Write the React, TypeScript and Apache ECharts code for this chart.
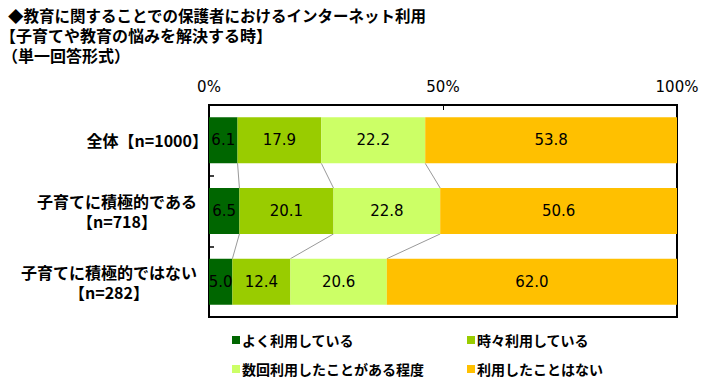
import React, { useEffect, useRef } from 'react';
import * as echarts from 'echarts';

const titleLines = [
  '◆教育に関することでの保護者におけるインターネット利用',
  '【子育てや教育の悩みを解決する時】',
  '（単一回答形式）',
];
const categories = [
  '全体【n=1000】',
  '子育てに積極的である\n【n=718】',
  '子育てに積極的ではない\n【n=282】',
];
const seriesNames = ['よく利用している', '時々利用している', '数回利用したことがある程度', '利用したことはない'];
const often = [6.1, 6.5, 5.0];
const sometimes = [17.9, 20.1, 12.4];
const fewTimes = [22.2, 22.8, 20.6];
const never = [53.8, 50.6, 62.0];
const xMin = 0;
const xMax = 100;
const xInterval = 50;

const colors = ['#006600', '#99CC00', '#CCFF66', '#FFC000'];
const JP = '"Noto Sans CJK JP", sans-serif';
const NUM = '"DejaVu Sans", sans-serif';

export default function App() {
  const ref = useRef<HTMLDivElement>(null);
  useEffect(() => {
    if (!ref.current) return;
    const chart = echarts.init(ref.current, undefined, { renderer: 'svg' });
    const values = [often, sometimes, fewTimes, never];

    // connectors between cumulative boundaries of adjacent rows
    const connectorData: number[][] = [];
    for (let r = 0; r < categories.length - 1; r++) {
      let c1 = 0;
      let c2 = 0;
      for (let k = 0; k < values.length - 1; k++) {
        c1 += values[k][r];
        c2 += values[k][r + 1];
        connectorData.push([c1, c2, r]);
      }
    }

    const labelSize = 16;
    const rich: Record<string, any> = {
      s: { fontSize: labelSize, fontWeight: 'bold', fontFamily: JP, color: '#000', lineHeight: 20 },
    };
    categories.forEach((c) => {
      const lines = c.split('\n');
      if (lines.length > 1) {
        rich['w' + lines[0].length] = {
          width: lines[0].length * labelSize,
          align: 'center',
          padding: [0, 11, 0, 0],
          fontSize: labelSize,
          fontWeight: 'bold',
          fontFamily: JP,
          color: '#000',
          lineHeight: 20,
        };
      }
    });

    const titleX = [8, 0, 2];
    const titleY = [15, 35, 55];
    const titleSize = [15.5, 16, 16];

    chart.setOption({
      animation: false,
      backgroundColor: '#fff',
      graphic: titleLines.map((t, i) => ({
        type: 'text',
        x: titleX[i],
        y: titleY[i],
        style: {
          text: t,
          fontSize: titleSize[i],
          fontWeight: 'bold',
          fontFamily: JP,
          fill: '#000',
          verticalAlign: 'middle',
          textVerticalAlign: 'middle',
        },
      })),
      legend: seriesNames.map((n, i) => ({
        data: [n],
        left: [232, 467, 232, 467][i],
        top: [333, 333, 362, 362][i],
        padding: 0,
        itemWidth: 8,
        itemHeight: 8,
        icon: 'rect',
        selectedMode: false,
        textStyle: { fontSize: 14, fontWeight: 'bold', fontFamily: JP, color: '#000', padding: [0, 0, 0, -3] },
      })),
      grid: {
        left: 209,
        right: 37,
        top: 105,
        bottom: 74,
        show: true,
        borderColor: '#000',
        borderWidth: 2,
        backgroundColor: 'transparent',
      },
      xAxis: {
        type: 'value',
        position: 'top',
        min: xMin,
        max: xMax,
        interval: xInterval,
        axisLine: { show: true, lineStyle: { color: '#000', width: 2 } },
        axisTick: { show: true, inside: true, length: 5, lineStyle: { color: '#000', width: 1 } },
        axisLabel: { formatter: '{value}%', fontSize: 15, fontFamily: NUM, color: '#000', margin: 11 },
        splitLine: { show: false },
      },
      yAxis: {
        type: 'category',
        inverse: true,
        data: categories,
        axisLine: { show: true, lineStyle: { color: '#000', width: 2 } },
        axisTick: { show: true, inside: true, length: 5, lineStyle: { color: '#000', width: 1.5 } },
        axisLabel: {
          margin: 1,
          align: 'right',
          formatter: (v: string) => {
            const lines = v.split('\n');
            if (lines.length === 1) return `{s|${v}}`;
            const key = 'w' + lines[0].length;
            return lines.map((l) => `{${key}|${l}}`).join('\n');
          },
          rich,
        },
        splitLine: { show: false },
      },
      series: [
        ...seriesNames.map((n, i) => ({
          name: n,
          type: 'bar',
          stack: 'total',
          data: values[i],
          barWidth: '65%',
          itemStyle: { color: colors[i] },
          label: {
            show: true,
            position: 'inside',
            formatter: (p: any) => Number(p.value).toFixed(1),
            color: '#000',
            fontSize: 15,
            fontFamily: NUM,
          },
        })),
        {
          type: 'custom',
          name: 'connectors',
          data: connectorData,
          encode: { x: [0, 1], y: 2 },
          silent: true,
          renderItem: (params: any, api: any) => {
            const a = api.coord([api.value(0), api.value(2)]);
            const b = api.coord([api.value(1), api.value(2) + 1]);
            const band = api.size([0, 1])[1];
            const h = (band * 0.65) / 2;
            return {
              type: 'line',
              shape: { x1: a[0], y1: a[1] + h, x2: b[0], y2: b[1] - h },
              style: { stroke: '#999999', lineWidth: 1 },
            };
          },
        },
      ],
    });
    return () => chart.dispose();
  }, []);
  return <div ref={ref} style={{ position: 'fixed', left: 0, top: 0, width: 714, height: 391 }} />;
}
